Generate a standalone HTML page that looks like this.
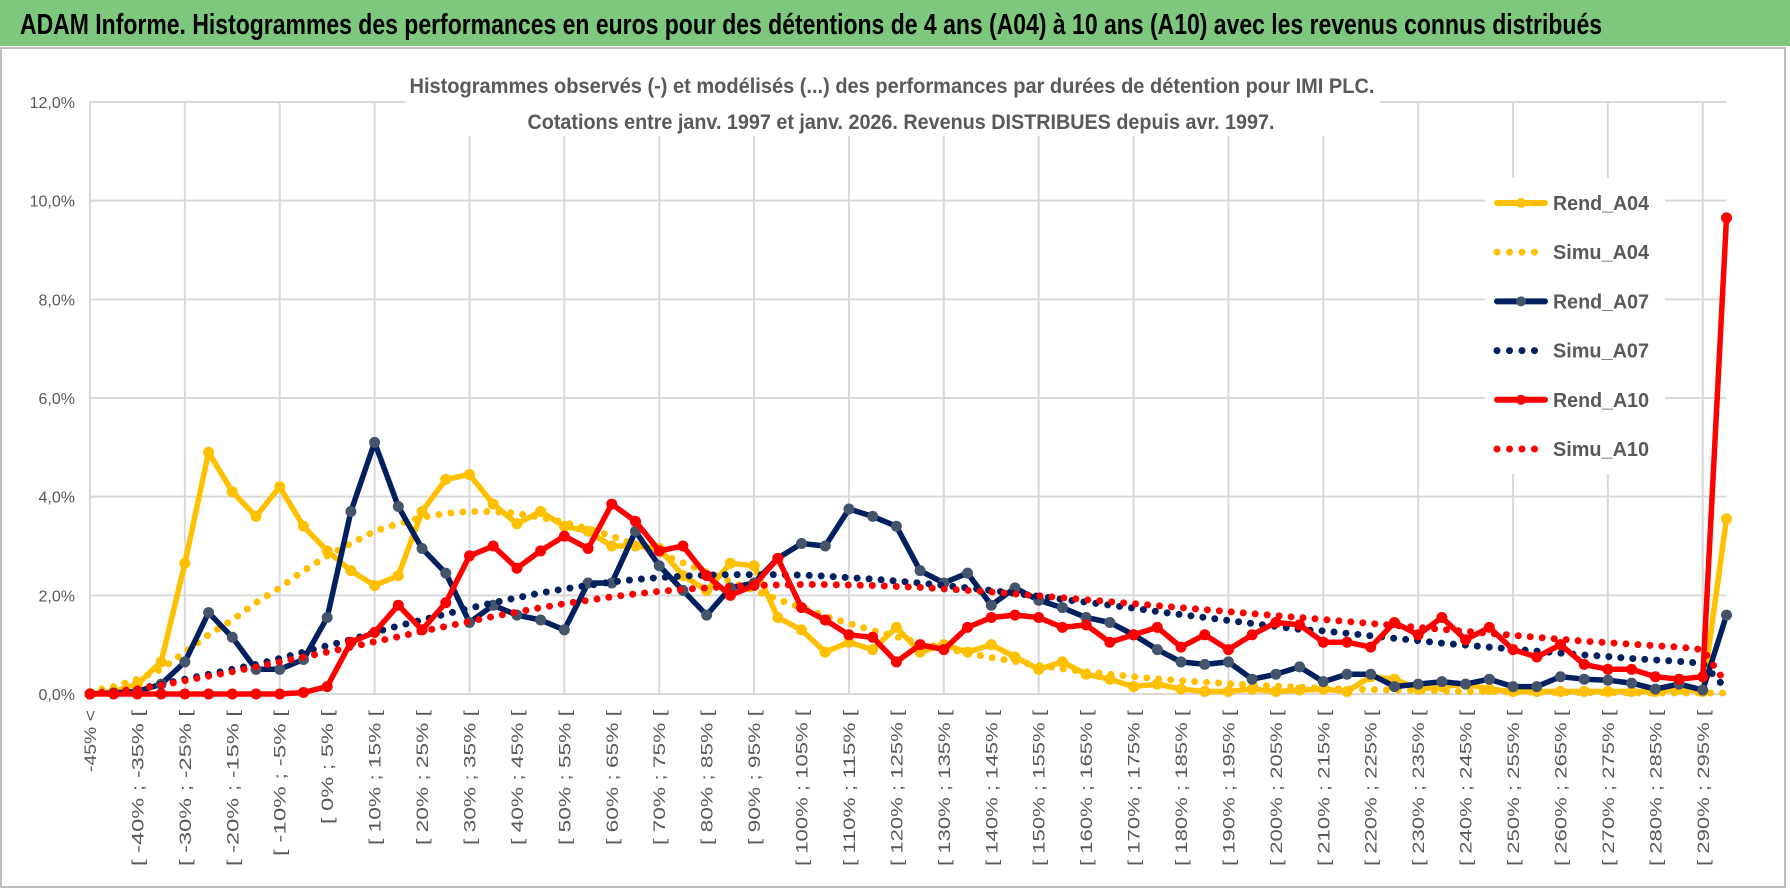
<!DOCTYPE html>
<html><head><meta charset="utf-8">
<style>
html,body{margin:0;padding:0;background:#fff;}
svg{display:block;font-family:"Liberation Sans",sans-serif;}
</style></head>
<body>
<svg id="chart" width="1790" height="888" viewBox="0 0 1790 888" xmlns="http://www.w3.org/2000/svg">
  <rect x="0" y="0" width="1790" height="888" fill="#ffffff"/>
  <rect x="0" y="0" width="1790" height="46" fill="#7ec87e"/>
  <text x="20" y="34" font-size="29" font-weight="bold" fill="#000" textLength="1582" lengthAdjust="spacingAndGlyphs">ADAM Informe. Histogrammes des performances en euros pour des détentions de 4 ans (A04) à 10 ans (A10) avec les revenus connus distribués</text>
  <rect x="1" y="48" width="1784" height="839" fill="none" stroke="#bfbfbf" stroke-width="2"/>
  <g id="grid"></g>
  <rect x="405" y="66" width="975" height="70" fill="#fff"/>
  <text x="892" y="93" font-size="21" font-weight="bold" fill="#595959" text-anchor="middle" textLength="965" lengthAdjust="spacingAndGlyphs">Histogrammes observés (-) et modélisés (...) des performances par durées de détention pour IMI PLC.</text>
  <text x="901" y="129" font-size="21" font-weight="bold" fill="#595959" text-anchor="middle" textLength="747" lengthAdjust="spacingAndGlyphs">Cotations entre janv. 1997 et janv. 2026. Revenus DISTRIBUES depuis avr. 1997.</text>
  <g id="yaxis"></g>
  <g id="xaxis"></g>
  <g id="series"></g>
  <g id="legend"></g>
</svg>
<script>
const yTicks = [0, 2, 4, 6, 8, 10, 12];
const yTickLabels = ["0,0%", "2,0%", "4,0%", "6,0%", "8,0%", "10,0%", "12,0%"];
const categories = (function(){
  const c = ["-45% <"];
  for (let a = -45; a < 300; a += 5) c.push("[ " + a + "% ; " + (a + 5) + "% [");
  return c.slice(0, 70);
})();
const rendA04 = [0,0.05,0.2,0.65,2.65,4.9,4.1,3.6,4.2,3.4,2.9,2.5,2.2,2.4,3.7,4.35,4.45,3.85,3.45,3.7,3.4,3.3,3.0,3.0,2.95,2.4,2.1,2.65,2.6,1.55,1.3,0.85,1.05,0.9,1.35,0.85,1.0,0.85,1.0,0.75,0.5,0.65,0.4,0.3,0.15,0.2,0.1,0.05,0.05,0.1,0.05,0.08,0.1,0.05,0.35,0.3,0.1,0.15,0.2,0.1,0.05,0.05,0.05,0.05,0.05,0.05,0.05,0.1,0.05,3.55];
const simuA04 = [0.05,0.15,0.3,0.5,0.85,1.2,1.5,1.85,2.15,2.5,2.8,3.05,3.3,3.45,3.58,3.66,3.7,3.7,3.66,3.58,3.48,3.35,3.2,3.03,2.85,2.66,2.47,2.28,2.1,1.92,1.75,1.58,1.43,1.29,1.16,1.04,0.93,0.83,0.74,0.66,0.58,0.51,0.45,0.4,0.35,0.31,0.27,0.24,0.21,0.18,0.16,0.14,0.12,0.1,0.09,0.08,0.07,0.06,0.05,0.05,0.04,0.04,0.03,0.03,0.03,0.02,0.02,0.02,0.02,0.02];
const rendA07 = [0,0.02,0.05,0.2,0.65,1.65,1.15,0.5,0.5,0.7,1.55,3.7,5.1,3.8,2.95,2.45,1.45,1.8,1.6,1.5,1.3,2.25,2.25,3.3,2.6,2.1,1.6,2.15,2.25,2.75,3.05,3.0,3.75,3.6,3.4,2.5,2.25,2.45,1.8,2.15,1.9,1.75,1.55,1.45,1.2,0.9,0.65,0.6,0.65,0.3,0.4,0.55,0.25,0.4,0.4,0.15,0.2,0.25,0.2,0.3,0.15,0.15,0.35,0.3,0.28,0.22,0.1,0.2,0.08,1.6];
const simuA07 = [0.02,0.05,0.1,0.2,0.3,0.4,0.5,0.6,0.72,0.85,0.98,1.1,1.25,1.38,1.5,1.62,1.74,1.85,1.95,2.05,2.13,2.2,2.27,2.32,2.36,2.39,2.41,2.42,2.42,2.42,2.41,2.39,2.36,2.33,2.29,2.25,2.2,2.15,2.1,2.04,1.98,1.92,1.86,1.8,1.74,1.67,1.61,1.55,1.49,1.43,1.37,1.31,1.28,1.23,1.18,1.13,1.08,1.03,0.99,0.95,0.91,0.87,0.83,0.79,0.76,0.72,0.69,0.66,0.62,0.1];
const rendA10 = [0,0,0,0,0,0,0,0,0,0.03,0.15,1.05,1.25,1.8,1.3,1.85,2.8,3.0,2.55,2.9,3.2,2.95,3.85,3.5,2.9,3.0,2.4,2.0,2.2,2.75,1.75,1.5,1.2,1.15,0.65,1.0,0.9,1.35,1.55,1.6,1.55,1.35,1.4,1.05,1.2,1.35,0.95,1.2,0.9,1.2,1.45,1.4,1.05,1.05,0.95,1.45,1.2,1.55,1.1,1.35,0.9,0.75,1.0,0.6,0.5,0.5,0.35,0.3,0.35,9.65];
const simuA10 = [0.02,0.05,0.1,0.18,0.27,0.36,0.45,0.55,0.65,0.75,0.85,0.95,1.06,1.16,1.27,1.37,1.47,1.57,1.66,1.75,1.83,1.9,1.97,2.03,2.08,2.12,2.15,2.18,2.2,2.21,2.22,2.22,2.21,2.2,2.18,2.16,2.13,2.1,2.07,2.03,1.99,1.95,1.91,1.87,1.83,1.79,1.75,1.71,1.67,1.63,1.59,1.55,1.51,1.47,1.43,1.39,1.35,1.31,1.27,1.23,1.19,1.15,1.11,1.07,1.04,1.01,0.98,0.95,0.9,0.2];
const seriesNames = ["Rend_A04","Simu_A04","Rend_A07","Simu_A07","Rend_A10","Simu_A10"];

const NS = "http://www.w3.org/2000/svg";
const X0 = 90, X1 = 1726.5, Y0 = 694, YTOP = 102, YMAX = 12;
function xPos(i){ return X0 + (X1 - X0) * i / (categories.length - 1); }
function yPos(v){ return Y0 - (Y0 - YTOP) * v / YMAX; }
function mk(tag, attrs, parent){ const e = document.createElementNS(NS, tag); for (const k in attrs) e.setAttribute(k, attrs[k]); parent.appendChild(e); return e; }

const grid = document.getElementById('grid');
yTicks.forEach(function(t){
  const l = mk('line', {x1:X0, x2:X1, y1:yPos(t), y2:yPos(t), stroke:'#d9d9d9', 'stroke-width':2}, grid);
  
  
});
for (let i = 0; i < categories.length; i += 4) {
  const l = mk('line', {x1:xPos(i), x2:xPos(i), y1:YTOP, y2:Y0, stroke:'#d9d9d9', 'stroke-width':2}, grid);
  
  
}
const yaxis = document.getElementById('yaxis');
yTicks.forEach(function(t, k){
  const tx = mk('text', {x:75, y:yPos(t) + 6, 'text-anchor':'end', 'font-size':16, fill:'#595959'}, yaxis);
  tx.textContent = yTickLabels[k];
  
  
});
const xaxis = document.getElementById('xaxis');
for (let i = 0; i < categories.length; i += 2) {
  const x = xPos(i) + 6, y = 710;
  const tx = mk('text', {x:x, y:y, 'text-anchor':'end', 'font-size':17, fill:'#595959', textLength:(categories[i].length * 10.4).toFixed(0), lengthAdjust:'spacingAndGlyphs', transform:'rotate(-90 ' + x + ' ' + y + ')'}, xaxis);
  tx.textContent = categories[i];
  
  
}

const seriesData = [rendA04, simuA04, rendA07, simuA07, rendA10, simuA10];
const colors = ["#ffc000","#ffc000","#002060","#002060","#ff0000","#ff0000"];
const markerColors = ["#ffc000","","#44546a","","#ff0000",""];
const sg = document.getElementById('series');
seriesData.forEach(function(vals, s){
  const g = mk('g', {}, sg);
  
  
  const pts = vals.map(function(v, i){ return xPos(i).toFixed(1) + ',' + yPos(v).toFixed(1); }).join(' ');
  const dotted = s % 2 === 1;
  const pl = mk('polyline', {points:pts, fill:'none', stroke:colors[s], 'stroke-width':dotted ? 7 : 5.5, 'stroke-linejoin':'round', 'stroke-linecap':'round'}, g);
  if (dotted) pl.setAttribute('stroke-dasharray', '0 12');
  
  
  if (!dotted) {
    vals.forEach(function(v, i){
      const c = mk('circle', {cx:xPos(i), cy:yPos(v), r:5.5, fill:markerColors[s]}, g);
      
      
    });
  }
});

const lg = document.getElementById('legend');
const lb = mk('rect', {x:1485, y:178, width:180, height:296, fill:'#ffffff'}, lg);


seriesNames.forEach(function(n, s){
  const y = 203 + s * 49.2;
  const g = mk('g', {}, lg);
  
  
  const dotted = s % 2 === 1;
  const l = mk('line', {x1:1497, x2:1545, y1:y, y2:y, stroke:colors[s], 'stroke-width':dotted ? 7 : 6, 'stroke-linecap':'round'}, g);
  if (dotted) l.setAttribute('stroke-dasharray', '0 12.5');
  
  
  if (!dotted) {
    const c = mk('circle', {cx:1521, cy:y, r:5, fill:markerColors[s]}, g);
    
    
  }
  const t = mk('text', {x:1553, y:y + 7, 'font-size':20, 'font-weight':'bold', fill:'#595959', textLength:96, lengthAdjust:'spacingAndGlyphs'}, g);
  t.textContent = n;
  
  
});
</script>
</body></html>
